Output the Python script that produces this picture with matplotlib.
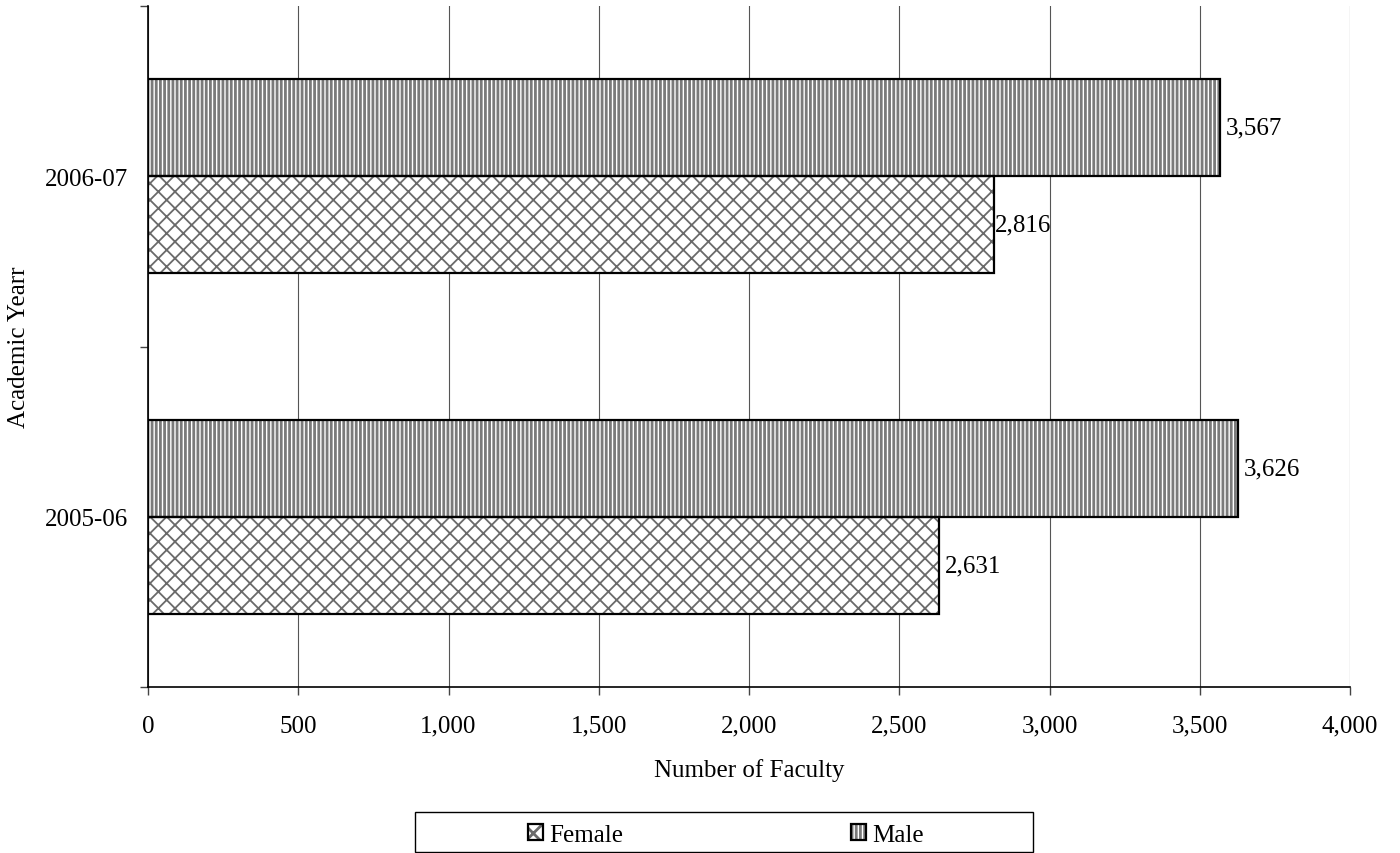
import matplotlib
matplotlib.use("Agg")
import matplotlib.pyplot as plt
from matplotlib.patches import Rectangle
from matplotlib.legend_handler import HandlerTuple
import numpy as np

categories = ["2005-06", "2006-07"]
female = [2631, 2816]
male = [3626, 3567]
xticks = [0, 500, 1000, 1500, 2000, 2500, 3000, 3500, 4000]
xticklabels = ["0", "500", "1,000", "1,500", "2,000", "2,500", "3,000", "3,500", "4,000"]

plt.rcParams['font.family'] = ['Liberation Serif', 'DejaVu Serif']
FS = 18

fig = plt.figure(figsize=(14, 8.54), dpi=100)
ax = fig.add_axes([148/1400, 1-688/854, (1350-148)/1400, (688-7)/854])

centers = np.arange(len(categories)) + 0.5
h = 0.285

plt.rcParams['hatch.linewidth'] = 1.3
hf = ax.barh(centers - h/2, female, height=h, color='white', edgecolor='#6a6a6a',
             linewidth=0, hatch='xx')
plt.rcParams['hatch.linewidth'] = 2.0
hm = ax.barh(centers + h/2, male, height=h, color='white', edgecolor='#7a7a7a',
             linewidth=0, hatch='||||')
if hasattr(hf[0], 'set_hatch_linewidth'):
    for p in hf:
        p.set_hatch_linewidth(1.3)
    for p in hm:
        p.set_hatch_linewidth(2.0)

of = ax.barh(centers - h/2, female, height=h, fill=False, edgecolor='black', linewidth=1.6)
om = ax.barh(centers + h/2, male, height=h, fill=False, edgecolor='black', linewidth=1.6)

# label offsets (points) per bar, as in the original layout
female_pad = [4.5, 0.8]
male_pad = [4.5, 4.5]
for bars, vals, pads in ((of, female, female_pad), (om, male, male_pad)):
    for rect, v, p in zip(bars, vals, pads):
        ax.annotate(f"{v:,}", xy=(rect.get_width(), rect.get_y() + rect.get_height()/2),
                    xytext=(p, 0), textcoords='offset points', ha='left',
                    va='center', fontsize=FS)

ax.set_xlim(0, 4000)
ax.set_ylim(0, 2)
ax.set_xticks(xticks)
ax.set_xticklabels(xticklabels, fontsize=FS)
ax.set_yticks([0, 1, 2])
ax.set_yticklabels([])
ax.set_yticks(centers, minor=True)
ax.set_yticklabels(categories, minor=True, fontsize=FS)
ax.tick_params(axis='y', which='minor', length=0, pad=14.4)
ax.tick_params(axis='y', which='major', length=6, width=1, color='#444444')
ax.tick_params(axis='x', length=5.5, width=1, pad=14.5, color='#444444')
ax.grid(axis='x', color='#555555', linewidth=0.8)
ax.set_axisbelow(True)
for s in ('top', 'right'):
    ax.spines[s].set_visible(False)
for s in ('left', 'bottom'):
    ax.spines[s].set_linewidth(1.2)

ax.set_xlabel("Number of Faculty", fontsize=FS)
ax.xaxis.set_label_coords(0.5, -(777-688)/681)
ax.xaxis.label.set_verticalalignment('baseline')
ax.set_ylabel("Academic Yearr", fontsize=FS)
ax.yaxis.set_label_coords(-(148-19)/1202, 0.5)
ax.yaxis.label.set_verticalalignment('center')

fig.patches.append(Rectangle((415/1400, 1-853/854), 618/1400, 40/854,
                             transform=fig.transFigure, fill=False,
                             edgecolor='black', linewidth=1))
fig.legend(handles=[(hf[0], of[0]), (hm[0], om[0])], labels=['Female', 'Male'],
           handler_map={tuple: HandlerTuple(ndivide=1)}, loc='center',
           bbox_to_anchor=(726/1400, 1-836/854), frameon=False, ncol=2,
           columnspacing=9.1, handletextpad=0.24, handlelength=0.6,
           handleheight=0.6, fontsize=FS, borderpad=0)

fig.savefig("out.png", dpi=100)
